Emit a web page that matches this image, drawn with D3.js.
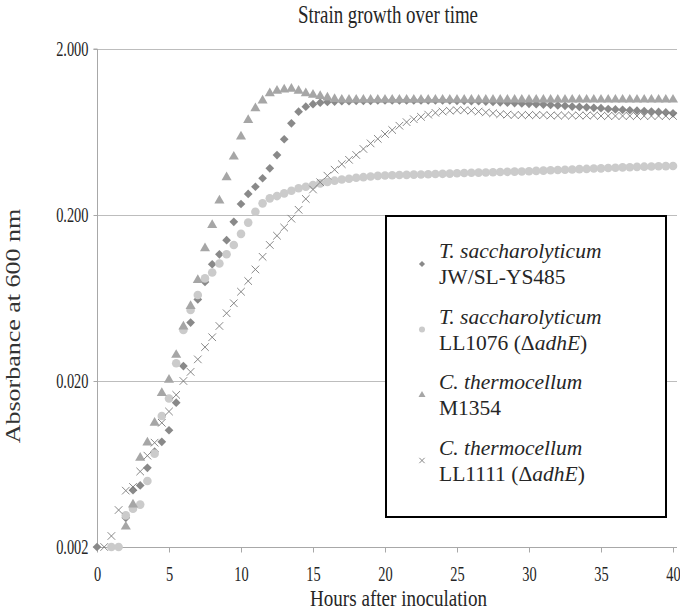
<!DOCTYPE html>
<html>
<head>
<meta charset="utf-8">
<script src="https://cdn.jsdelivr.net/npm/d3@7"></script>
<style>
  body { margin: 0; background: #fff; }
  text { font-family: 'Liberation Serif', 'Times New Roman', serif; }
</style>
</head>
<body>
<svg id="chart" width="680" height="610"></svg>
<script>
const hours = [0, 0.5, 1, 1.5, 2, 2.5, 3, 3.5, 4, 4.5, 5, 5.5, 6, 6.5, 7, 7.5, 8, 8.5, 9, 9.5,
    10, 10.5, 11, 11.5, 12, 12.5, 13, 13.5, 14, 14.5, 15, 15.5, 16, 16.5, 17, 17.5, 18, 18.5, 19, 19.5,
    20, 20.5, 21, 21.5, 22, 22.5, 23, 23.5, 24, 24.5, 25, 25.5, 26, 26.5, 27, 27.5, 28, 28.5, 29, 29.5,
    30, 30.5, 31, 31.5, 32, 32.5, 33, 33.5, 34, 34.5, 35, 35.5, 36, 36.5, 37, 37.5, 38, 38.5, 39, 39.5, 40];

// T. saccharolyticum JW/SL-YS485 (diamonds)
const tsWild = [0.002, null, null, null, 0.0030, 0.0044, 0.0047, 0.0060, 0.0075, 0.0086,
    0.0101, 0.0148, 0.0246, 0.045, 0.062, 0.079, 0.101, 0.116, 0.141, 0.182,
    0.233, 0.268, 0.296, 0.333, 0.382, 0.459, 0.572, 0.713, 0.838, 0.898,
    0.93, 0.95, 0.96, 0.965, 0.97, 0.97, 0.975, 0.975, 0.975, 0.98,
    0.98, 0.98, 0.98, 0.98, 0.98, 0.98, 0.98, 0.98, 0.98, 0.98,
    0.975, 0.975, 0.97, 0.97, 0.965, 0.96, 0.955, 0.95, 0.945, 0.94,
    0.935, 0.93, 0.925, 0.92, 0.915, 0.91, 0.90, 0.895, 0.89, 0.885,
    0.88, 0.87, 0.865, 0.86, 0.855, 0.85, 0.845, 0.84, 0.835, 0.83, 0.82];

// T. saccharolyticum LL1076 (circles)
const tsAdhE = [null, null, 0.002, 0.002, 0.0031, 0.0034, 0.0036, 0.005, 0.0073, 0.0123,
    0.0157, 0.0256, 0.0406, 0.0536, 0.066, 0.083, 0.09, 0.102, 0.116, 0.132,
    0.154, 0.18, 0.209, 0.235, 0.252, 0.26, 0.27, 0.28, 0.29, 0.296,
    0.303, 0.31, 0.316, 0.322, 0.327, 0.331, 0.335, 0.338, 0.341, 0.344,
    0.346, 0.347, 0.348, 0.349, 0.35, 0.351, 0.352, 0.353, 0.354, 0.355,
    0.357, 0.358, 0.359, 0.36, 0.361, 0.362, 0.363, 0.364, 0.365, 0.366,
    0.367, 0.369, 0.37, 0.372, 0.373, 0.375, 0.376, 0.378, 0.379, 0.381,
    0.382, 0.384, 0.385, 0.387, 0.388, 0.39, 0.391, 0.392, 0.393, 0.394, 0.395];

// C. thermocellum M1354 (triangles)
const ctWild = [null, null, null, null, 0.00265, 0.0036, 0.0069, 0.0085, 0.0112, 0.0169,
    0.0203, 0.0287, 0.0425, 0.0566, 0.081, 0.126, 0.174, 0.244, 0.337, 0.449,
    0.593, 0.747, 0.879, 0.977, 1.08, 1.12, 1.14, 1.15, 1.12, 1.08,
    1.06, 1.04, 1.02, 1.0, 0.99, 0.99, 0.99, 0.99, 0.99, 0.99,
    0.99, 0.99, 0.99, 0.99, 0.99, 0.99, 0.99, 0.99, 0.99, 0.99,
    0.99, 0.99, 0.99, 0.99, 0.99, 0.99, 0.99, 0.99, 0.99, 0.99,
    0.99, 0.99, 0.99, 0.99, 0.99, 0.99, 0.99, 0.99, 0.99, 0.99,
    0.99, 0.99, 0.99, 0.99, 0.99, 0.99, 0.99, 0.99, 0.99, 0.99, 0.99];

// C. thermocellum LL1111 (crosses)
const ctAdhE = [null, 0.002, 0.00233, 0.00334, 0.00437, 0.0046, 0.0057, 0.0071, 0.0085, 0.0112,
    0.0131, 0.0165, 0.020, 0.0227, 0.027, 0.032, 0.0367, 0.0429, 0.0512, 0.0588,
    0.069, 0.080, 0.094, 0.112, 0.132, 0.150, 0.168, 0.19, 0.215, 0.25,
    0.285, 0.315, 0.345, 0.375, 0.405, 0.43, 0.46, 0.50, 0.54, 0.575,
    0.615, 0.65, 0.69, 0.725, 0.755, 0.78, 0.805, 0.825, 0.84, 0.85,
    0.855, 0.855, 0.85, 0.84, 0.83, 0.82, 0.81, 0.805, 0.80, 0.80,
    0.80, 0.80, 0.80, 0.795, 0.795, 0.795, 0.795, 0.795, 0.795, 0.795,
    0.79, 0.79, 0.79, 0.79, 0.79, 0.79, 0.79, 0.79, 0.79, 0.79, 0.79];

const yTicks = [0.002, 0.02, 0.2, 2];
const xTicks = [0, 5, 10, 15, 20, 25, 30, 35, 40];

const series = [
    { values: tsWild, shape: 'diamond', color: '#898989', name: 'T. saccharolyticum', strain: 'JW/SL-YS485', mutant: false },
    { values: tsAdhE, shape: 'circle', color: '#cbcbcb', name: 'T. saccharolyticum', strain: 'LL1076  (', mutant: true },
    { values: ctWild, shape: 'triangle', color: '#a6a6a6', name: 'C. thermocellum', strain: 'M1354', mutant: false },
    { values: ctAdhE, shape: 'cross', color: '#7a7a7a', name: 'C. thermocellum', strain: 'LL1111 (', mutant: true }
];

const serif = "'Liberation Serif', 'Times New Roman', serif";
const squeeze = 0.72; // the source figure's tick text is horizontally condensed

const svg = d3.select('#chart');
const margin = { left: 97, right: 673, top: 49, bottom: 547 };

const x = d3.scaleLinear().domain([0, 40]).range([margin.left, margin.right]);
const y = d3.scaleLog().domain([0.002, 2]).range([margin.bottom, margin.top]);

function markerPath(shape, scale) {
    const s = scale || 1;
    if (shape === 'diamond') return d3.symbol(d3.symbolSquare, 38 * s * s)();
    if (shape === 'circle') return d3.symbol(d3.symbolCircle, 58 * s * s)();
    if (shape === 'triangle') return d3.symbol(d3.symbolTriangle, 44 * s * s)();
    const r = 3.8 * s;
    return `M${-r},${-r}L${r},${r}M${-r},${r}L${r},${-r}`;
}

// gridlines
svg.append('g')
    .selectAll('line')
    .data(yTicks.slice(1))
    .enter()
    .append('line')
    .attr('x1', margin.left)
    .attr('x2', margin.right + 4)
    .attr('y1', d => Math.round(y(d)) + 0.5)
    .attr('y2', d => Math.round(y(d)) + 0.5)
    .attr('stroke', '#bdbdbd')
    .attr('stroke-width', 1);

// y axis
const yAxis = svg.append('g')
    .attr('transform', `translate(${margin.left + 0.5},0)`)
    .attr('font-family', serif)
    .call(d3.axisLeft(y).tickValues(yTicks).tickSize(4).tickFormat(d3.format('.3f')));
yAxis.select('.domain').attr('stroke', '#a8a8a8').attr('d', `M-4,${margin.top}H0V${margin.bottom}H-4`);
yAxis.selectAll('.tick line').attr('stroke', '#a8a8a8');
yAxis.selectAll('.tick text')
    .attr('x', -9 / squeeze)
    .attr('dy', '0.34em')
    .attr('transform', `scale(${squeeze},1)`)
    .attr('fill', '#262626')
    .style('font-size', '20px');

// x axis
const xAxis = svg.append('g')
    .attr('transform', `translate(0,${Math.round(margin.bottom) + 0.5})`)
    .attr('font-family', serif)
    .call(d3.axisBottom(x).tickValues(xTicks).tickSize(5).tickSizeOuter(0));
xAxis.select('.domain').attr('stroke', '#a8a8a8').attr('d', `M${margin.left},0H${margin.right + 4}`);
xAxis.selectAll('.tick line').attr('stroke', '#a8a8a8');
xAxis.selectAll('.tick text')
    .attr('x', 0)
    .attr('y', 34)
    .attr('dy', 0)
    .attr('transform', `scale(${squeeze},1)`)
    .attr('fill', '#262626')
    .style('font-size', '20px');

// markers, drawn in series order
series.forEach(s => {
    const pts = hours.map((h, i) => [h, s.values[i]]).filter(p => p[1] !== null);
    svg.append('g')
        .selectAll('path')
        .data(pts)
        .enter()
        .append('path')
        .attr('d', markerPath(s.shape))
        .attr('transform', d => `translate(${x(d[0])},${y(d[1])})` + (s.shape === 'diamond' ? ' rotate(45)' : ''))
        .attr('fill', s.shape === 'cross' ? 'none' : s.color)
        .attr('stroke', s.shape === 'cross' ? s.color : 'none')
        .attr('stroke-width', 0.9);
});

// titles
svg.append('text')
    .attr('x', 298)
    .attr('y', 23)
    .attr('textLength', 180)
    .attr('lengthAdjust', 'spacingAndGlyphs')
    .attr('fill', '#262626')
    .style('font-size', '25px')
    .text('Strain growth over time');

svg.append('text')
    .attr('x', 310)
    .attr('y', 606)
    .attr('textLength', 177)
    .attr('lengthAdjust', 'spacingAndGlyphs')
    .attr('fill', '#262626')
    .style('font-size', '24px')
    .text('Hours after inoculation');

svg.append('text')
    .attr('transform', 'translate(20,326) scale(0.8,1) rotate(-90)')
    .attr('text-anchor', 'middle')
    .attr('fill', '#333')
    .style('font-size', '26px')
    .text('Absorbance at 600 nm');

// legend
const legend = svg.append('g');
legend.append('rect')
    .attr('x', 386)
    .attr('y', 216)
    .attr('width', 280)
    .attr('height', 301)
    .attr('fill', '#fff')
    .attr('stroke', '#000')
    .attr('stroke-width', 2);

series.forEach((s, i) => {
    const top = 258 + i * 65.5;
    const g = legend.append('g');
    g.append('path')
        .attr('d', markerPath(s.shape, 0.7))
        .attr('transform', `translate(422,${top + 6})` + (s.shape === 'diamond' ? ' rotate(45)' : ''))
        .attr('fill', s.shape === 'cross' ? 'none' : s.color)
        .attr('stroke', s.shape === 'cross' ? s.color : 'none')
        .attr('stroke-width', 0.9);
    g.append('text')
        .attr('x', 439)
        .attr('y', top)
        .attr('fill', '#262626')
        .style('font-size', '21.5px')
        .style('font-style', 'italic')
        .text(s.name);
    const t = g.append('text')
        .attr('x', 439)
        .attr('y', top + 26)
        .attr('fill', '#262626')
        .style('font-size', '21.5px')
        .text(s.strain);
    if (s.mutant) {
        t.append('tspan').text('\u0394');
        t.append('tspan').style('font-style', 'italic').text('adhE');
        t.append('tspan').text(')');
    }
});
</script>
</body>
</html>
